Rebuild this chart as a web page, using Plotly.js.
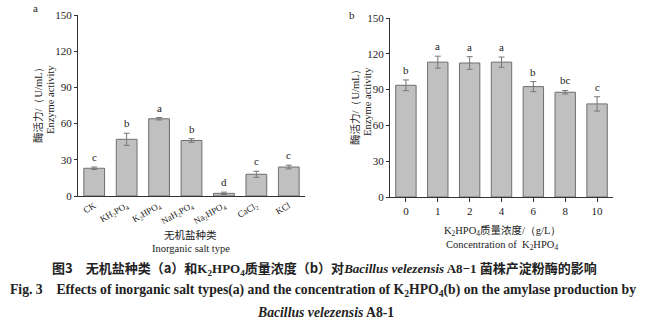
<!DOCTYPE html>
<html><head><meta charset="utf-8">
<script src="https://cdn.plot.ly/plotly-3.0.1.min.js"></script>
<style>html,body{margin:0;padding:0;background:#fff}#c{width:648px;height:325px}</style>
</head><body><div id="c"></div>
<script>
// Panel a: inorganic salt types
const saltLabels = ["CK","KH<sub>2</sub>PO<sub>4</sub>","K<sub>2</sub>HPO<sub>4</sub>","NaH<sub>2</sub>PO<sub>4</sub>","Na<sub>2</sub>HPO<sub>4</sub>","CaCl<sub>2</sub>","KCl"];
const saltValues = [23, 47, 64, 46, 2.2, 18, 24];
const saltErrors = [1, 5, 1, 1.5, 1, 2.5, 1.5];
const saltLetters = ["c","b","a","b","d","c","c"];
// Panel b: K2HPO4 concentration (g/L)
const concLabels = ["0","1","2","4","6","8","10"];
const concValues = [93.6, 113, 112.3, 113, 92.5, 87.8, 78];
const concErrors = [4.5, 5, 5.3, 4.3, 4.2, 1.5, 6];
const concLetters = ["b","a","a","a","b","bc","c"];
const yTicks = [0, 30, 60, 90, 120, 150];

const W = 648, H = 325;
const px = v => v / W, py = v => 1 - v / H;
const serif = "Liberation Serif, Times New Roman, serif";
const cjk = "Noto Sans CJK SC, sans-serif";

const barStyle = {color:"#c0c0c0", line:{color:"#6e6e6e", width:1}};
const errStyle = {color:"#777", thickness:1, width:3};

const traces = [
  {type:"bar", x:saltLabels, y:saltValues, xaxis:"x", yaxis:"y", marker:barStyle,
   error_y:Object.assign({type:"data", array:saltErrors, visible:true}, errStyle), hoverinfo:"none"},
  {type:"bar", x:concLabels, y:concValues, xaxis:"x2", yaxis:"y2", marker:barStyle,
   error_y:Object.assign({type:"data", array:concErrors, visible:true}, errStyle), hoverinfo:"none"}
];

const axisCommon = {showgrid:false, zeroline:false, showline:true, linecolor:"#333", linewidth:1,
  ticks:"outside", ticklen:3, tickcolor:"#333", tickfont:{family:serif, size:11, color:"#222"}};

const annotations = [];
// category axes: annotation x given as category index
saltLabels.forEach((c,i)=>annotations.push({x:i, y:saltValues[i]+saltErrors[i], xref:"x", yref:"y",
  text:saltLetters[i], showarrow:false, yanchor:"bottom", yshift:2, font:{family:serif, size:11, color:"#222"}}));
concLabels.forEach((c,i)=>annotations.push({x:i, y:concValues[i]+concErrors[i], xref:"x2", yref:"y2",
  text:concLetters[i], showarrow:false, yanchor:"bottom", yshift:2, font:{family:serif, size:11, color:"#222"}}));

function paperText(x, y, text, opts) {
  annotations.push(Object.assign({x:px(x), y:py(y), xref:"paper", yref:"paper", text:text, showarrow:false,
    xanchor:"center", yanchor:"middle", font:{family:serif, size:10.5, color:"#222"}}, opts||{}));
}
// panel letters
paperText(35, 8, "a", {font:{family:serif, size:11, color:"#222"}});
paperText(352, 15, "b", {font:{family:serif, size:11, color:"#222"}});
// y titles
const yCn = '<span style="font-family:Noto Sans CJK SC">酶活力</span>/（U/mL）';
paperText(37, 102, yCn, {textangle:-90, font:{family:serif, size:10.5, color:"#222"}});
paperText(50, 100, "Enzyme activity", {textangle:-90});
paperText(354, 104, yCn, {textangle:-90, font:{family:serif, size:10.5, color:"#222"}});
paperText(367, 102, "Enzyme activity", {textangle:-90});
// x titles
paperText(191, 234, "无机盐种类", {font:{family:cjk, size:10.5, color:"#222"}});
paperText(191, 248, "Inorganic salt type");
paperText(502, 230, 'K<sub>2</sub>HPO<sub>4</sub><span style="font-family:Noto Sans CJK SC">质量浓度</span>/（g/L）');
paperText(502, 245, "Concentration of  K<sub>2</sub>HPO<sub>4</sub>");
// caption
paperText(324, 268, '<b>图3　无机盐种类（a）和</b><b style="font-family:Liberation Serif">K<sub>2</sub>HPO<sub>4</sub></b><b>质量浓度（b）对</b><b style="font-family:Liberation Serif"><i>Bacillus velezensis</i> A8−1 </b><b>菌株产淀粉酶的影响</b>',
  {font:{family:cjk, size:13, color:"#222"}});
paperText(323, 290, "<b>Fig. 3    Effects of inorganic salt types(a) and the concentration of K<sub>2</sub>HPO<sub>4</sub>(b) on the amylase production by</b>",
  {font:{family:serif, size:13.7, color:"#222"}});
paperText(325, 312, "<b><i>Bacillus velezensis</i> A8-1</b>", {font:{family:serif, size:13.7, color:"#222"}});

const layout = {
  width:W, height:H, margin:{l:0,r:0,t:0,b:0}, paper_bgcolor:"#fff", plot_bgcolor:"#fff",
  showlegend:false, bargap:0.36, font:{family:serif},
  xaxis:Object.assign({}, axisCommon, {type:"category", domain:[px(78), px(305)], anchor:"y", tickangle:-30, ticks:"", tickfont:{family:serif, size:9, color:"#222"}}),
  yaxis:Object.assign({}, axisCommon, {domain:[py(196), py(15)], range:[0,150], tickvals:yTicks, anchor:"x"}),
  xaxis2:Object.assign({}, axisCommon, {type:"category", domain:[px(390), px(613)], anchor:"y2", ticklen:4}),
  yaxis2:Object.assign({}, axisCommon, {domain:[py(197), py(18)], range:[0,150], tickvals:yTicks, anchor:"x2"}),
  annotations:annotations
};
Plotly.newPlot("c", traces, layout, {staticPlot:true});
</script></body></html>
